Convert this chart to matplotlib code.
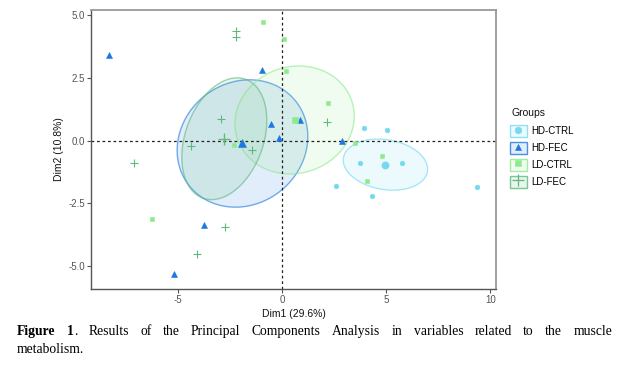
import numpy as np
import matplotlib
matplotlib.use("Agg")
import matplotlib.pyplot as plt
from matplotlib.patches import Polygon, Patch
from matplotlib.lines import Line2D
from matplotlib.colors import to_rgba

# ---------------- data (PCA individual coordinates) ----------------
groups = ["HD-CTRL", "HD-FEC", "LD-CTRL", "LD-FEC"]

hd_ctrl_x = [3.93, 5.03, 3.75, 5.74, 2.58, 4.33, 9.38]
hd_ctrl_y = [0.52, 0.44, -0.88, -0.88, -1.82, -2.21, -1.85]

hd_fec_x = [-8.33, -0.96, -0.54, -0.14, 0.88, 2.86, -3.76, -5.20]
hd_fec_y = [3.40, 2.80, 0.68, 0.10, 0.83, 0.00, -3.37, -5.33]

ld_ctrl_x = [-0.91, 0.10, 0.19, 2.21, 3.50, 4.78, 4.10, -2.32, -6.22]
ld_ctrl_y = [4.74, 4.07, 2.76, 1.51, -0.10, -0.62, -1.62, -0.17, -3.13]

ld_fec_x = [-2.21, -2.21, -2.91, -4.36, -1.44, 2.16, -7.12, -2.75, -4.10]
ld_fec_y = [4.39, 4.13, 0.87, -0.20, -0.39, 0.75, -0.90, -3.45, -4.50]

xlabel = "Dim1 (29.6%)"
ylabel = "Dim2 (10.8%)"
legend_title = "Groups"
xticks = [-5, 0, 5, 10]
yticks = [-5.0, -2.5, 0.0, 2.5, 5.0]
caption_line1 = "Figure 1. Results of the Principal Components Analysis in variables related to the muscle"
caption_line2 = "metabolism."

# ---------------- styles ----------------
colors = {"HD-CTRL": "#74D9F1", "HD-FEC": "#1C77E0",
          "LD-CTRL": "#8DEB8D", "LD-FEC": "#5DB97D"}
markers = {"HD-CTRL": "o", "HD-FEC": "^", "LD-CTRL": "s", "LD-FEC": "+"}
msize = {"HD-CTRL": 3.4, "HD-FEC": 3.8, "LD-CTRL": 3.2, "LD-FEC": 6.0}
mean_msize = {"HD-CTRL": 5.2, "HD-FEC": 6.0, "LD-CTRL": 5.0, "LD-FEC": 8.5}
data = {"HD-CTRL": (hd_ctrl_x, hd_ctrl_y), "HD-FEC": (hd_fec_x, hd_fec_y),
        "LD-CTRL": (ld_ctrl_x, ld_ctrl_y), "LD-FEC": (ld_fec_x, ld_fec_y)}

plt.rcParams["font.family"] = ["Liberation Sans", "DejaVu Sans"]

W, H = 628, 372
fig = plt.figure(figsize=(W / 100, H / 100), dpi=100)
ax = fig.add_axes([91 / W, 1 - 288.7 / H, (496 - 91) / W, (288.7 - 10) / H])
ax.set_xlim(-9.17, 10.27)
ax.set_ylim(-5.9, 5.21)


def conf_ellipse(x, y, level=0.95, npts=200):
    pts = np.column_stack([x, y])
    n = len(pts)
    centre = pts.mean(axis=0)
    cov = np.cov(pts.T) / n
    vals, vecs = np.linalg.eigh(cov)
    t = np.sqrt(-2 * np.log(1 - level))
    th = np.linspace(0, 2 * np.pi, npts)
    circ = np.column_stack([np.cos(th), np.sin(th)])
    return circ * (t * np.sqrt(vals)) @ vecs.T + centre


fill_alpha = 0.13
edge_alpha = 0.6
for g in groups:
    x, y = data[g]
    e = conf_ellipse(x, y)
    poly = Polygon(e, closed=True, facecolor=to_rgba(colors[g], fill_alpha),
                   edgecolor=to_rgba(colors[g], edge_alpha), linewidth=1.0, zorder=1)
    ax.add_patch(poly)

ax.axhline(0, color="#222222", lw=0.9, ls=(0, (2.2, 2.2)), zorder=2)
ax.axvline(0, color="#222222", lw=0.9, ls=(0, (2.2, 2.2)), zorder=2)

for g in groups:
    x, y = data[g]
    c = colors[g]
    mk = markers[g]
    ax.plot(x, y, ls="none", marker=mk, ms=msize[g], color=c, mec=c,
            mew=0.8 if mk == "+" else 0.4, zorder=3)
    ax.plot([np.mean(x)], [np.mean(y)], ls="none", marker=mk, ms=mean_msize[g],
            color=c, mec=c, mew=1.0 if mk == "+" else 0.4, zorder=4)

ax.set_xticks(xticks)
ax.set_xticklabels([str(v) for v in xticks])
ax.set_yticks(yticks)
ax.set_yticklabels([f"{v:.1f}" for v in yticks])
ax.tick_params(labelsize=7, colors="#555555", length=3, width=0.8, pad=1.5)
for s in ["top", "right"]:
    ax.spines[s].set_color("#999999")
    ax.spines[s].set_linewidth(1.3)
for s in ["left", "bottom"]:
    ax.spines[s].set_color("#555555")
    ax.spines[s].set_linewidth(1.0)

ax.set_xlabel(xlabel, fontsize=7.5, color="#111111", labelpad=3)
ax.set_ylabel(ylabel, fontsize=7.5, color="#111111", labelpad=3)

# legend
fig.text(511 / W, 1 - 113 / H, legend_title, fontsize=7.5, va="center", ha="left",
         color="#111111")
handles = []
for g in groups:
    c = colors[g]
    box = Patch(facecolor=to_rgba(c, fill_alpha), edgecolor=to_rgba(c, 0.8), linewidth=1.0)
    mk = markers[g]
    pt = Line2D([], [], ls="none", marker=mk, ms=9 if mk == "+" else 4.8,
                color=c, mec=c, mew=0.9 if mk == "+" else 0.4)
    handles.append((box, pt))
leg = fig.legend(handles, groups, loc="upper left",
                 bbox_to_anchor=(510 / W, 1 - 125 / H), frameon=False,
                 fontsize=7, handlelength=1.7, handleheight=1.6,
                 handletextpad=0.45, labelspacing=0.45, borderaxespad=0,
                 borderpad=0)

# caption with justified first line
fig.canvas.draw()
renderer = fig.canvas.get_renderer()
cap_fs = 9.8
serif = ["Liberation Serif", "DejaVu Serif"]


def measure(s, weight):
    t = fig.text(0, 0, s, fontsize=cap_fs, family=serif, weight=weight)
    w = t.get_window_extent(renderer).width
    t.remove()
    return w


words = caption_line1.split()
segs = []
for i, w in enumerate(words):
    if i == 0:
        segs.append([(w, "bold")])
    elif i == 1:
        segs.append([(w.rstrip("."), "bold"), (".", "normal")])
    else:
        segs.append([(w, "normal")])
widths = [[measure(s, wt) for s, wt in seg] for seg in segs]
total = sum(sum(ws) for ws in widths)
x_left, x_right = 17, 612
gap = (x_right - x_left - total) / (len(segs) - 1)
xpos = x_left
y1 = 1 - 335 / H
for seg, ws in zip(segs, widths):
    xx = xpos
    for (s, wt), w in zip(seg, ws):
        fig.text(xx / W, y1, s, fontsize=cap_fs, family=serif, weight=wt, va="baseline")
        xx += w
    xpos += sum(ws) + gap
fig.text(x_left / W, 1 - 353 / H, caption_line2, fontsize=cap_fs, family=serif, va="baseline")

fig.savefig("out.png", dpi=100)
